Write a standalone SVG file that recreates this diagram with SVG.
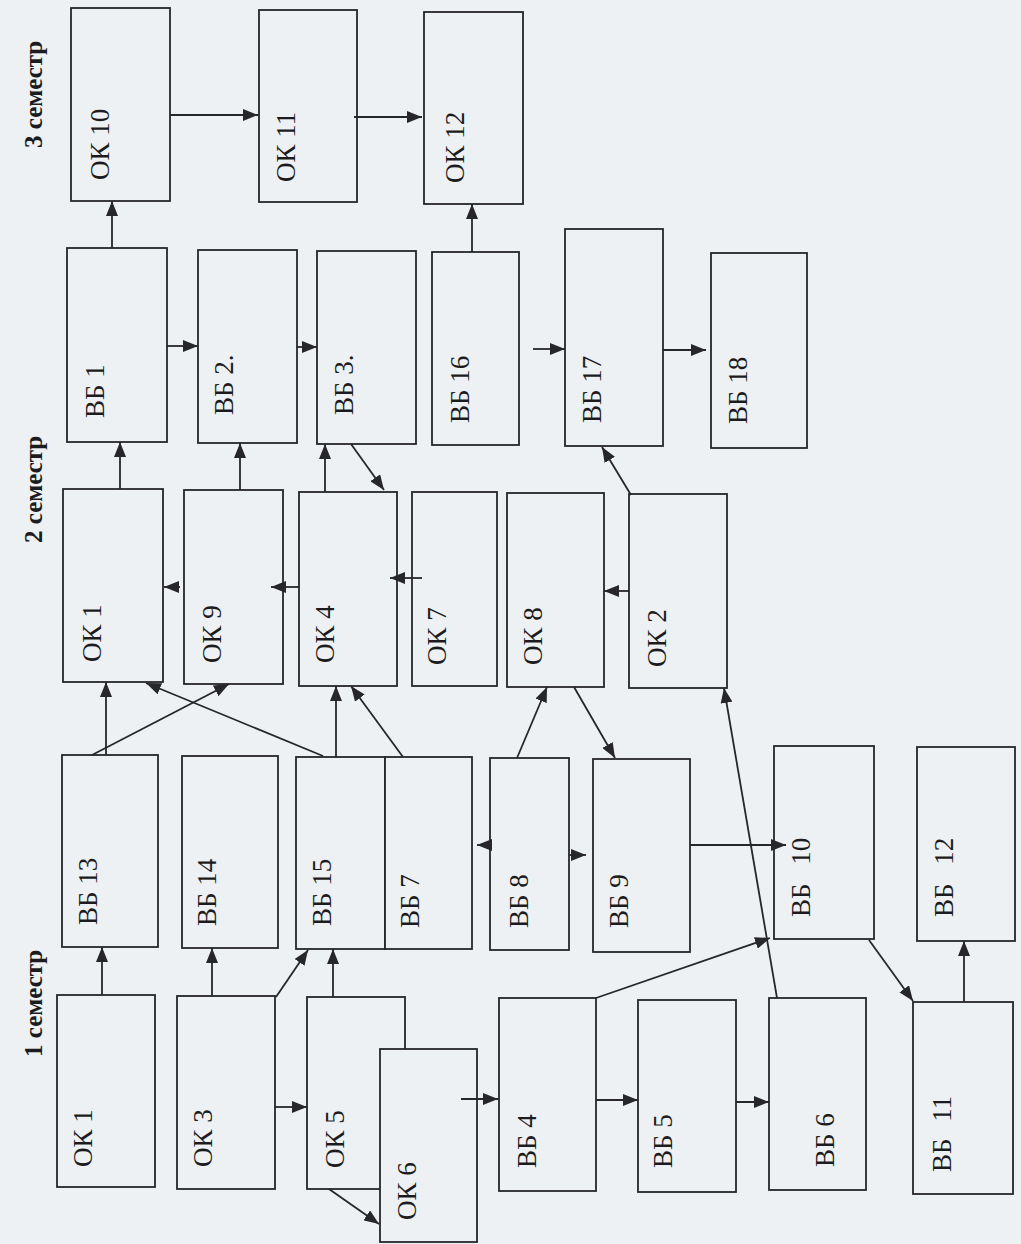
<svg xmlns="http://www.w3.org/2000/svg" width="1021" height="1244" viewBox="0 0 1021 1244">
<style>
.bg{fill:#eef1f4}
.box{fill:#eef1f4;stroke:#26262b;stroke-width:1.8}
.lbl{font-family:"Liberation Serif","Times New Roman",serif;font-size:27px;fill:#1c1c20}
.sem{font-family:"Liberation Serif","Times New Roman",serif;font-size:25px;font-weight:bold;fill:#1c1c20}
.c line{stroke:#26262b;stroke-width:1.8;fill:none;marker-end:url(#ah)}
</style>
<defs>
<marker id="ah" markerUnits="userSpaceOnUse" markerWidth="16" markerHeight="12" refX="15" refY="6" orient="auto">
<path d="M0,0 L15,6 L0,12 z" fill="#26262b"/>
</marker>
</defs>
<rect class="bg" x="0" y="0" width="1021" height="1244"/>

<g id="labels">
<text class="sem" transform="translate(42,148) rotate(-90)">3 семестр</text>
<text class="sem" transform="translate(42,543) rotate(-90)">2 семестр</text>
<text class="sem" transform="translate(42,1057) rotate(-90)">1 семестр</text>
</g>

<g id="ok10"><rect class="box" x="71" y="8" width="99" height="193"/><text class="lbl" transform="translate(100,180) rotate(-90)" y="9">ОК 10</text></g>
<g id="ok11"><rect class="box" x="259" y="10" width="98" height="192"/><text class="lbl" transform="translate(286,182) rotate(-90)" y="9">ОК 11</text></g>
<g id="ok12"><rect class="box" x="424" y="12" width="99" height="192"/><text class="lbl" transform="translate(455,183) rotate(-90)" y="9">ОК 12</text></g>

<g id="vb1"><rect class="box" x="67" y="248" width="100" height="194"/><text class="lbl" transform="translate(95,418) rotate(-90)" y="9">ВБ 1</text></g>
<g id="vb2"><rect class="box" x="198" y="250" width="99" height="193"/><text class="lbl" transform="translate(224,415) rotate(-90)" y="9">ВБ 2.</text></g>
<g id="vb3"><rect class="box" x="317" y="251" width="99" height="193"/><text class="lbl" transform="translate(344,415) rotate(-90)" y="9">ВБ 3.</text></g>
<g id="vb16"><rect class="box" x="432" y="252" width="87" height="193"/><text class="lbl" transform="translate(460,423) rotate(-90)" y="9">ВБ 16</text></g>
<g id="vb17"><rect class="box" x="565" y="229" width="98" height="217"/><text class="lbl" transform="translate(592,423) rotate(-90)" y="9">ВБ 17</text></g>
<g id="vb18"><rect class="box" x="711" y="253" width="96" height="195"/><text class="lbl" transform="translate(738,424) rotate(-90)" y="9">ВБ 18</text></g>

<g id="ok1-s2"><rect class="box" x="63" y="489" width="100" height="193"/><text class="lbl" transform="translate(92,662) rotate(-90)" y="9">ОК 1</text></g>
<g id="ok9"><rect class="box" x="184" y="490" width="99" height="194"/><text class="lbl" transform="translate(212,663) rotate(-90)" y="9">ОК 9</text></g>
<g id="ok4"><rect class="box" x="299" y="492" width="98" height="194"/><text class="lbl" transform="translate(325,663) rotate(-90)" y="9">ОК 4</text></g>
<g id="ok7"><rect class="box" x="412" y="492" width="85" height="194"/><text class="lbl" transform="translate(437,665) rotate(-90)" y="9">ОК 7</text></g>
<g id="ok8"><rect class="box" x="507" y="493" width="97" height="194"/><text class="lbl" transform="translate(533,665) rotate(-90)" y="9">ОК 8</text></g>
<g id="ok2"><rect class="box" x="629" y="494" width="98" height="194"/><text class="lbl" transform="translate(657,667) rotate(-90)" y="9">ОК 2</text></g>

<g id="vb13"><rect class="box" x="62" y="755" width="96" height="192"/><text class="lbl" transform="translate(88,925) rotate(-90)" y="9">ВБ 13</text></g>
<g id="vb14"><rect class="box" x="182" y="756" width="96" height="192"/><text class="lbl" transform="translate(207,926) rotate(-90)" y="9">ВБ 14</text></g>
<g id="vb15"><rect class="box" x="296" y="757" width="89" height="192"/><text class="lbl" transform="translate(322,926) rotate(-90)" y="9">ВБ 15</text></g>
<g id="vb7"><rect class="box" x="385" y="757" width="87" height="192"/><text class="lbl" transform="translate(410,928) rotate(-90)" y="9">ВБ 7</text></g>
<g id="vb8"><rect class="box" x="490" y="758" width="79" height="192"/><text class="lbl" transform="translate(519,928) rotate(-90)" y="9">ВБ 8</text></g>
<g id="vb9"><rect class="box" x="593" y="759" width="97" height="193"/><text class="lbl" transform="translate(619,928) rotate(-90)" y="9">ВБ 9</text></g>
<g id="vb10"><rect class="box" x="774" y="746" width="100" height="193"/><text class="lbl" transform="translate(801,917) rotate(-90)" y="9">ВБ <tspan dx="12">10</tspan></text></g>
<g id="vb12"><rect class="box" x="917" y="747" width="98" height="194"/><text class="lbl" transform="translate(944,917) rotate(-90)" y="9">ВБ <tspan dx="12">12</tspan></text></g>

<g id="ok1-s1"><rect class="box" x="57" y="995" width="98" height="192"/><text class="lbl" transform="translate(83,1167) rotate(-90)" y="9">ОК 1</text></g>
<g id="ok3"><rect class="box" x="177" y="996" width="98" height="193"/><text class="lbl" transform="translate(203,1167) rotate(-90)" y="9">ОК 3</text></g>
<g id="ok5"><rect class="box" x="307" y="997" width="98" height="192"/><text class="lbl" transform="translate(335,1168) rotate(-90)" y="9">ОК 5</text></g>
<g id="ok6"><rect class="box" x="380" y="1049" width="97" height="193"/><text class="lbl" transform="translate(407,1220) rotate(-90)" y="9">ОК 6</text></g>
<g id="vb4"><rect class="box" x="499" y="998" width="97" height="193"/><text class="lbl" transform="translate(527,1168) rotate(-90)" y="9">ВБ 4</text></g>
<g id="vb5"><rect class="box" x="638" y="1000" width="98" height="192"/><text class="lbl" transform="translate(663,1168) rotate(-90)" y="9">ВБ 5</text></g>
<g id="vb6"><rect class="box" x="769" y="998" width="97" height="192"/><text class="lbl" transform="translate(825,1167) rotate(-90)" y="9">ВБ 6</text></g>
<g id="vb11"><rect class="box" x="913" y="1002" width="100" height="192"/><text class="lbl" transform="translate(942,1172) rotate(-90)" y="9">ВБ <tspan dx="10">11</tspan></text></g>

<g id="connectors" class="c">
<line x1="170" y1="115" x2="258" y2="115"/>
<line x1="354" y1="117" x2="422" y2="117"/>
<line x1="112" y1="248" x2="112" y2="201"/>
<line x1="472" y1="252" x2="472" y2="204"/>
<line x1="167" y1="346" x2="198" y2="346"/>
<line x1="297" y1="347" x2="317" y2="347"/>
<line x1="533" y1="349" x2="565" y2="349"/>
<line x1="663" y1="350" x2="706" y2="350"/>
<line x1="120" y1="489" x2="120" y2="442"/>
<line x1="240" y1="490" x2="240" y2="443"/>
<line x1="325" y1="492" x2="325" y2="444"/>
<line x1="351" y1="444" x2="384" y2="490"/>
<line x1="631" y1="495" x2="602" y2="447"/>
<line x1="180" y1="587" x2="164" y2="587"/>
<line x1="299" y1="587" x2="271" y2="587"/>
<line x1="422" y1="578" x2="390" y2="578"/>
<line x1="629" y1="591" x2="604" y2="591"/>
<line x1="106" y1="755" x2="106" y2="682"/>
<line x1="92" y1="755" x2="229" y2="684"/>
<line x1="323" y1="756" x2="146" y2="683"/>
<line x1="336" y1="757" x2="336" y2="686"/>
<line x1="403" y1="757" x2="351" y2="686"/>
<line x1="517" y1="758" x2="547" y2="687"/>
<line x1="574" y1="687" x2="615" y2="758"/>
<line x1="490" y1="845" x2="477" y2="845"/>
<line x1="569" y1="855" x2="586" y2="855"/>
<line x1="690" y1="845" x2="786" y2="845"/>
<line x1="777" y1="998" x2="724" y2="688"/>
<line x1="596" y1="998" x2="770" y2="938"/>
<line x1="869" y1="940" x2="913" y2="1001"/>
<line x1="964" y1="1002" x2="964" y2="941"/>
<line x1="102" y1="995" x2="102" y2="947"/>
<line x1="212" y1="996" x2="212" y2="948"/>
<line x1="276" y1="997" x2="308" y2="950"/>
<line x1="333" y1="997" x2="333" y2="949"/>
<line x1="275" y1="1107" x2="307" y2="1107"/>
<line x1="329" y1="1189" x2="379" y2="1224"/>
<line x1="461" y1="1099" x2="498" y2="1099"/>
<line x1="596" y1="1100" x2="638" y2="1100"/>
<line x1="736" y1="1102" x2="769" y2="1102"/>
</g>
</svg>
